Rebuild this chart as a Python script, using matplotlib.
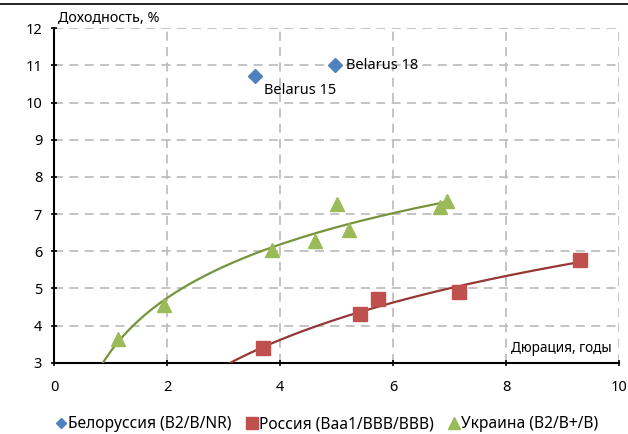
import numpy as np
import matplotlib
matplotlib.use('Agg')
import matplotlib.pyplot as plt
from matplotlib.lines import Line2D

plt.rcParams['font.family'] = ['Noto Sans', 'DejaVu Sans']

# Belarus eurobonds
blr_x = [3.56, 4.97]
blr_y = [10.71, 11.0]
blr_labels = ['Belarus 15', 'Belarus 18']

# Russia
rus_x = [3.70, 5.42, 5.73, 7.17, 9.31]
rus_y = [3.40, 4.31, 4.71, 4.90, 5.76]

# Ukraine
ukr_x = [1.13, 1.95, 3.86, 4.62, 5.00, 5.22, 6.83, 6.96]
ukr_y = [3.64, 4.55, 6.03, 6.29, 7.26, 6.56, 7.18, 7.34]

leg_names = ['Белоруссия (B2/B/NR)', 'Россия (Baa1/BBB/BBB)', 'Украина (B2/B+/B)']

fig = plt.figure(figsize=(6.28, 4.34), dpi=100)
ax = fig.add_axes([0.086, 0.164, 0.900, 0.771])

ax.set_xlim(0, 10)
ax.set_ylim(3, 12)
ax.set_xticks(range(0, 11, 2))
ax.set_yticks(range(3, 13))
ax.grid(True, color='#bfbfbf', linestyle=(0, (5, 3.5)), linewidth=1.3)
ax.set_axisbelow(True)
for s in ['top', 'right']:
    ax.spines[s].set_visible(False)
for s in ['left', 'bottom']:
    ax.spines[s].set_linewidth(1.5)
ax.tick_params(direction='inout', length=5, width=1.2, labelsize=10.5, pad=6)
ax.tick_params(axis='x', pad=10)


def log_trend(xs, ys, col):
    b, a = np.polyfit(np.log(xs), ys, 1)
    x0 = np.exp((3 - a) / b)
    xx = np.linspace(x0, max(xs), 200)
    ax.plot(xx, a + b * np.log(xx), color=col, linewidth=1.6, zorder=3)


ax.plot(blr_x, blr_y, 'D', color='#4f81bd', markersize=7, zorder=4)
ax.plot(rus_x, rus_y, 's', color='#c0504d', markersize=10, zorder=4)
ax.plot(ukr_x, ukr_y, '^', color='#9bbb59', markersize=10, zorder=4)
log_trend(ukr_x, ukr_y, '#77933c')
log_trend(rus_x, rus_y, '#953735')

ax.annotate(blr_labels[0], (blr_x[0], blr_y[0]), xytext=(6, -10), textcoords='offset points',
            fontsize=10.5, va='center', ha='left')
ax.annotate(blr_labels[1], (blr_x[1], blr_y[1]), xytext=(8, 0), textcoords='offset points',
            fontsize=10.5, va='center', ha='left')

fig.text(0.093, 0.958, 'Доходность, %', fontsize=10.3, va='center', ha='left')
ax.text(9.86, 3.38, 'Дюрация, годы', fontsize=9.8, va='center', ha='right')

handles = [Line2D([], [], marker='D', color='#4f81bd', linestyle='none', markersize=5),
           Line2D([], [], marker='s', color='#c0504d', linestyle='none', markersize=8),
           Line2D([], [], marker='^', color='#9bbb59', linestyle='none', markersize=8)]
fig.legend(handles, leg_names, loc='center', bbox_to_anchor=(0.52, 0.022), ncol=3,
           frameon=False, fontsize=11.2, handletextpad=0.05, columnspacing=0.9,
           handlelength=0.8)

fig.add_artist(Line2D([0, 1], [0.991, 0.991], color='black', linewidth=1.2))

fig.savefig('out.png', dpi=100)
